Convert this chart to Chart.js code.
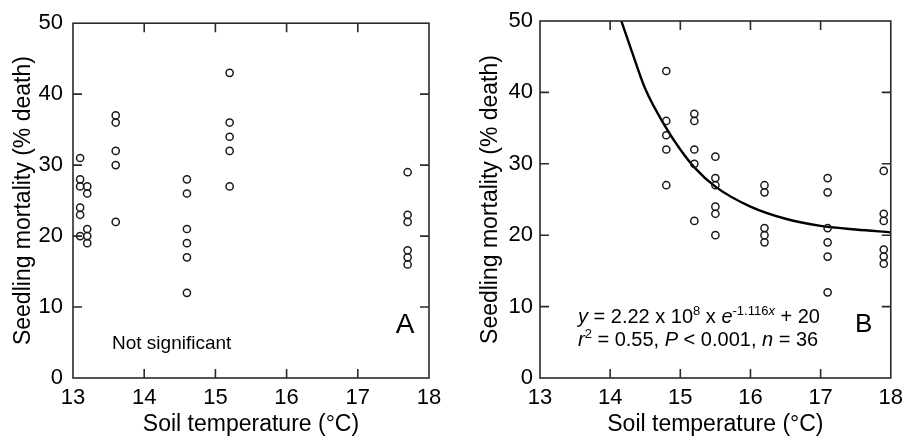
<!DOCTYPE html>
<html><head><meta charset="utf-8">
<script src="https://cdn.jsdelivr.net/npm/chart.js@4.4.0/dist/chart.umd.min.js"></script>
<style>
html,body{margin:0;padding:0;background:#fff;}
#wrap{position:relative;width:910px;height:439px;overflow:hidden;}
canvas{position:absolute;top:0;}
</style></head><body>
<div id="wrap">
<canvas id="ca" width="455" height="439" style="left:0"></canvas>
<canvas id="cb" width="455" height="439" style="left:455px"></canvas>
</div>
<script>
// ---- data ----
const xTicks = [13, 14, 15, 16, 17, 18];
const yTicks = [0, 10, 20, 30, 40, 50];

// Panel A
const tempA = [13.1,13.1,13.1,13.1,13.1,13.1, 13.2,13.2,13.2,13.2,13.2, 13.6,13.6,13.6,13.6,13.6,
               14.6,14.6,14.6,14.6,14.6,14.6, 15.2,15.2,15.2,15.2,15.2, 17.7,17.7,17.7,17.7,17.7,17.7];
const mortA = [31,28,27,24,23,20, 27,26,21,20,19, 37,36,32,30,22,
               28,26,21,19,17,12, 43,36,34,32,27, 29,23,22,18,17,16];

// Panel B
const tempB = [14.8,14.8,14.8,14.8,14.8, 15.2,15.2,15.2,15.2,15.2, 15.5,15.5,15.5,15.5,15.5,15.5,
               16.2,16.2,16.2,16.2,16.2, 17.1,17.1,17.1,17.1,17.1,17.1, 17.9,17.9,17.9,17.9,17.9,17.9];
const mortB = [43,36,34,32,27, 37,36,32,30,22, 31,28,27,24,23,20,
               27,26,21,20,19, 28,26,21,19,17,12, 29,23,22,18,17,16];

// Fitted curve in panel B
const fitTemp = [14.16, 14.3, 14.5, 14.8, 15.0, 15.2, 15.5, 16.0, 16.5, 17.0, 17.5, 18.0];
const fitMort = [50, 46, 40.5, 35, 32, 29.5, 26.8, 24, 22.3, 21.3, 20.8, 20.4];

const yTitle = 'Seedling mortality (% death)';
const xTitle = 'Soil temperature (°C)';
const noteA = 'Not significant';
const labelA = 'A';
const labelB = 'B';
const eqLine1 = [{t:'y',i:1},{t:' = 2.22 x 10'},{t:'8',s:1},{t:' x '},{t:'e',i:1},{t:'-1.116',s:1},{t:'x',s:1,i:1},{t:' + 20'}];
const eqLine2 = [{t:'r',i:1},{t:'2',s:1},{t:' = 0.55, '},{t:'P',i:1},{t:' < 0.001, '},{t:'n',i:1},{t:' = 36'}];

// ---- styling ----
const FONT = '"Liberation Sans", Arial, Helvetica, sans-serif';
const TXT = '#000';

const framePlugin = {
  id: 'frame',
  afterDatasetsDraw(chart) {
    const {ctx, chartArea: a, scales: {x, y}} = chart;
    ctx.save();
    ctx.strokeStyle = '#2a2a2a';
    ctx.lineWidth = 1.6;
    ctx.strokeRect(a.left, a.top, a.right - a.left, a.bottom - a.top);
    const L = 9;
    ctx.beginPath();
    x.ticks.forEach(t => {
      const px = x.getPixelForValue(t.value);
      if (px <= a.left + 1 || px >= a.right - 1) return;
      ctx.moveTo(px, a.bottom); ctx.lineTo(px, a.bottom - L);
      ctx.moveTo(px, a.top); ctx.lineTo(px, a.top + L);
    });
    y.ticks.forEach(t => {
      const py = y.getPixelForValue(t.value);
      if (py <= a.top + 1 || py >= a.bottom - 1) return;
      ctx.moveTo(a.left, py); ctx.lineTo(a.left + L, py);
      ctx.moveTo(a.right, py); ctx.lineTo(a.right - L, py);
    });
    ctx.stroke();
    ctx.restore();
  }
};

function drawRich(ctx, segs, x, y, size) {
  let cx = x;
  segs.forEach(sg => {
    const sz = sg.s ? Math.round(size * 0.65) : size;
    ctx.font = (sg.i ? 'italic ' : '') + sz + 'px ' + FONT;
    const yy = sg.s ? y - size * 0.42 : y;
    ctx.fillText(sg.t, cx, yy);
    cx += ctx.measureText(sg.t).width;
  });
}

function textPlugin(which) {
  return {
    id: 'txt' + which,
    afterDraw(chart) {
      const {ctx, chartArea: a} = chart;
      ctx.save();
      ctx.fillStyle = TXT;
      ctx.textBaseline = 'alphabetic';
      ctx.textAlign = 'left';
      if (which === 'A') {
        ctx.font = '19px ' + FONT;
        ctx.fillText(noteA, a.left + 39, a.bottom - 29);
        ctx.font = '28px ' + FONT;
        ctx.textAlign = 'center';
        ctx.textBaseline = 'middle';
        ctx.fillText(labelA, a.right - 24, a.bottom - 53);
      } else {
        drawRich(ctx, eqLine1, a.left + 38, a.bottom - 55, 20);
        drawRich(ctx, eqLine2, a.left + 38, a.bottom - 32, 20);
        ctx.font = '26px ' + FONT;
        ctx.textAlign = 'center';
        ctx.textBaseline = 'middle';
        ctx.fillText(labelB, a.right - 27, a.bottom - 53);
      }
      ctx.restore();
    }
  };
}

function makeScales(yWidth, yTickPad, yTitlePad) {
  return {
    x: {
      type: 'linear', min: 13, max: 18,
      afterBuildTicks: s => { s.ticks = xTicks.map(v => ({value: v})); },
      grid: {display: false, drawTicks: false},
      border: {display: false},
      ticks: {color: TXT, font: {family: FONT, size: 22}, padding: 7, maxRotation: 0, autoSkip: false},
      title: {display: true, text: xTitle, color: TXT, font: {family: FONT, size: 23}, padding: {top: 0, bottom: 1}},
      afterFit: s => { s.height = 61; }
    },
    y: {
      type: 'linear', min: 0, max: 50,
      afterBuildTicks: s => { s.ticks = yTicks.map(v => ({value: v})); },
      grid: {display: false, drawTicks: false},
      border: {display: false},
      ticks: {color: TXT, font: {family: FONT, size: 22}, padding: yTickPad, autoSkip: false},
      title: {display: true, text: yTitle, color: TXT, font: {family: FONT, size: 23}, padding: {top: yTitlePad, bottom: 0}},
      afterFit: s => { s.width = yWidth; }
    }
  };
}

const pointStyle = {
  type: 'scatter',
  pointStyle: 'circle',
  pointRadius: 3.6,
  pointBorderWidth: 1.5,
  borderColor: '#1a1a1a',
  backgroundColor: 'rgba(0,0,0,0)',
  showLine: false
};

const common = {
  responsive: false,
  animation: false,
  plugins: {legend: {display: false}, tooltip: {enabled: false}}
};

new Chart(document.getElementById('ca'), {
  type: 'scatter',
  data: {
    datasets: [Object.assign({}, pointStyle, {data: tempA.map((t, i) => ({x: t, y: mortA[i]}))})]
  },
  options: Object.assign({}, common, {
    layout: {padding: {left: 0, top: 21, right: 26, bottom: 0}},
    scales: makeScales(73, 10, 10)
  }),
  plugins: [framePlugin, textPlugin('A')]
});

new Chart(document.getElementById('cb'), {
  type: 'scatter',
  data: {
    datasets: [
      Object.assign({}, pointStyle, {data: tempB.map((t, i) => ({x: t, y: mortB[i]}))}),
      {
        type: 'line',
        data: fitTemp.map((t, i) => ({x: t, y: fitMort[i]})),
        borderColor: '#000', borderWidth: 2.4, pointRadius: 0,
        cubicInterpolationMode: 'monotone', fill: false
      }
    ]
  },
  options: Object.assign({}, common, {
    layout: {padding: {left: 0, top: 21, right: 13, bottom: 0}},
    scales: makeScales(85, 7, 22)
  }),
  plugins: [framePlugin, textPlugin('B')]
});
</script>
</body></html>
